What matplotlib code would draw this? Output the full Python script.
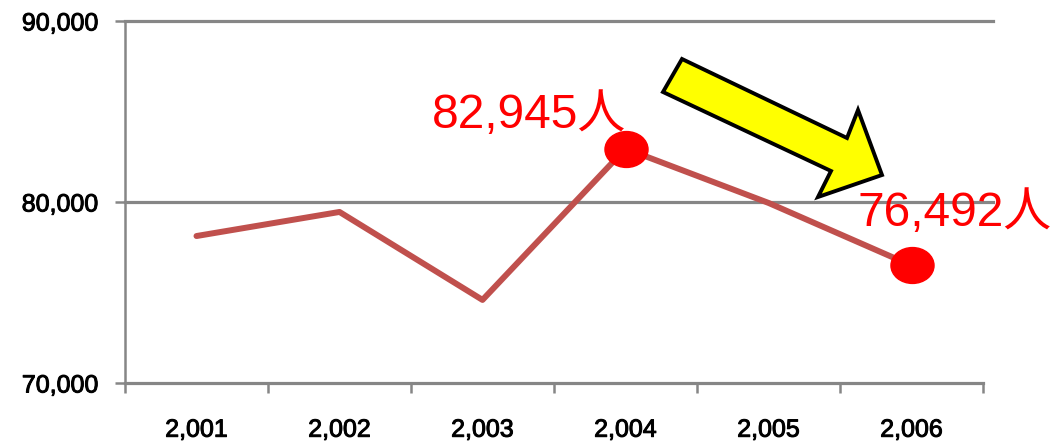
import numpy as np
import matplotlib
matplotlib.use("Agg")
import matplotlib.pyplot as plt
import matplotlib.patheffects as pe
from matplotlib.path import Path
from matplotlib.patches import Polygon
from matplotlib.ticker import FuncFormatter

# data
years = ["2,001", "2,002", "2,003", "2,004", "2,005", "2,006"]
visitors = [78120, 79450, 74590, 82945, 79950, 76492]
marked = [3, 5]            # points with a red dot and label
labels = ["82,945人", "76,492人"]

grid_col = "#868686"
line_col = "#C0504D"

plt.rcParams['font.family'] = ['Liberation Sans', 'Noto Sans CJK JP', 'DejaVu Sans']

fig = plt.figure(figsize=(10.54, 4.45), dpi=100)
W, H = 1054, 445
ax = fig.add_axes([125 / W, 1 - 383 / H, (983 - 125) / W, (383 - 21) / H])

x = np.arange(len(years))
ax.set_xlim(-0.5, len(years) - 0.5)
ax.set_ylim(70000, 90000)

# gridlines (drawn a bit past the right edge like the original)
for v in [80000, 90000]:
    ax.axhline(v, xmin=0, xmax=1.012, color=grid_col, lw=2.3, clip_on=False, zorder=1)

ax.plot(x, visitors, color=line_col, lw=4.3, solid_capstyle="round", zorder=3)

# slightly wide ellipse marker
ell = Path.unit_circle().transformed(matplotlib.transforms.Affine2D().scale(1.2, 1.0))
mx = [x[i] for i in marked]
my = [visitors[i] for i in marked]
ax.plot(mx, my, linestyle="none", marker=ell, markersize=31, color="#FF0000", zorder=4)

offsets = [(-97, 33), (43, 52)]
for i, lab, off in zip(marked, labels, offsets):
    ax.annotate(lab, (x[i], visitors[i]), xytext=off, textcoords="offset pixels",
                ha="center", va="center", color="#FF0000", fontsize=34.5, zorder=5)

# axes styling
for s in ["top", "right"]:
    ax.spines[s].set_visible(False)
ax.spines["left"].set_color(grid_col)
ax.spines["left"].set_linewidth(1.8)
ax.spines["bottom"].set_color(grid_col)
ax.spines["bottom"].set_linewidth(2.3)

thick = [pe.withStroke(linewidth=0.7, foreground="black")]

ax.set_yticks([70000, 80000, 90000])
ax.yaxis.set_major_formatter(FuncFormatter(lambda v, p: f"{int(v):,}"))
ax.tick_params(axis="y", length=7, width=1.8, color=grid_col, pad=12,
               labelsize=18, labelcolor="black")
for t in ax.get_yticklabels():
    t.set_path_effects(thick)

ax.set_xticks(x)
ax.set_xticklabels(years)
ax.tick_params(axis="x", length=0, pad=25, labelsize=18, labelcolor="black")
for t in ax.get_xticklabels():
    t.set_path_effects(thick)
ax.set_xticks(np.arange(len(years) + 1) - 0.5, minor=True)
ax.tick_params(axis="x", which="minor", length=7, width=1.8, color=grid_col)

# yellow arrow pointing down to the 2006 value
pts = [(682, 59), (847, 138), (858, 110), (882, 175), (818, 197), (831, 171), (663, 92)]
arrow = Polygon([(px / W, 1 - py / H) for px, py in pts], closed=True,
                transform=fig.transFigure, facecolor="#FFFF00", edgecolor="black",
                lw=2.8, joinstyle="miter", zorder=6)
fig.patches.append(arrow)

fig.savefig("out.png", dpi=100)
